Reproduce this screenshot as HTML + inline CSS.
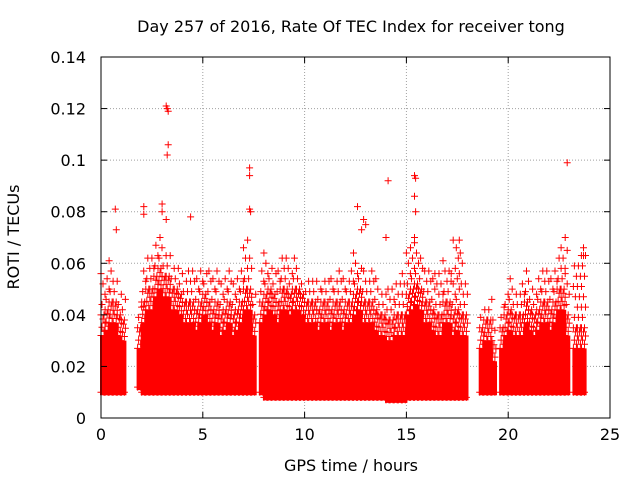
<!DOCTYPE html>
<html><head><meta charset="utf-8"><style>
body{margin:0;background:#fff;}
svg{display:block;font-family:"DejaVu Sans","Liberation Sans",sans-serif;}
</style></head><body>
<svg id="chart" width="640" height="480" viewBox="0 0 640 480">
<rect x="0" y="0" width="640" height="480" fill="#fff"/>
<text x="351" y="32" font-size="16" text-anchor="middle">Day 257 of 2016, Rate Of TEC Index for receiver tong</text>
<text x="351" y="471" font-size="16" text-anchor="middle">GPS time / hours</text>
<text transform="translate(19,237) rotate(-90)" font-size="16" text-anchor="middle">ROTI / TECUs</text>
<g id="grid"></g>
<g id="marks"></g>
<g id="axes"></g>
</svg>
<script>
const xTicks=[0,5,10,15,20,25];
const yTicks=[0,0.02,0.04,0.06,0.08,0.1,0.12,0.14];
const yTickLabels=["0","0.02","0.04","0.06","0.08","0.1","0.12","0.14"];
const binWidth=0.2;
const binHi=[.04,.042,.045,.045,.04,.038,null,null,null,.035,
.045,.05,.05,.055,.058,.055,.055,.05,.05,.048,
.045,.045,.045,.042,.045,.048,.045,.042,.045,.04,
.042,.045,.04,.042,.045,.05,.05,.04,null,.045,
.048,.05,.048,.045,.05,.05,.048,.05,.05,.048,
.045,.045,.045,.042,.045,.045,.042,.045,.045,.042,
.045,.045,.048,.05,.045,.045,.045,.042,.04,.04,
.038,.038,.04,.04,.04,.048,.05,.052,.05,.045,
.045,.042,.04,.04,.045,.045,.04,.042,.04,.04,
null,null,null,.035,.038,.038,.03,null,.035,.04,
.042,.04,.04,.04,.045,.042,.04,.042,.045,.045,
.042,.045,.05,.05,.04,null,.035,.035,.035,null];
const binLo=[.01,.01,.01,.01,.01,.01,null,null,null,.012,
.01,.01,.01,.01,.01,.01,.01,.01,.01,.01,
.01,.01,.01,.01,.01,.01,.01,.01,.01,.01,
.01,.01,.01,.01,.01,.01,.01,.01,null,.01,
.008,.008,.008,.008,.008,.008,.008,.008,.008,.008,
.008,.008,.008,.008,.008,.008,.008,.008,.008,.008,
.008,.008,.008,.008,.008,.008,.008,.008,.008,.008,
.007,.007,.007,.007,.007,.008,.008,.008,.008,.008,
.008,.008,.008,.008,.008,.008,.008,.008,.008,.008,
null,null,null,.01,.01,.01,.01,null,.01,.01,
.01,.01,.01,.01,.01,.01,.01,.01,.01,.01,
.01,.01,.01,.01,.01,null,.01,.01,.01,null];
const binPeak=[.06,.058,.063,.055,.05,.048,null,null,null,.045,
.06,.066,.065,.068,.07,.066,.065,.06,.06,.058,
.055,.058,.058,.055,.06,.06,.058,.055,.06,.055,
.058,.06,.055,.058,.06,.068,.065,.05,null,.058,
.065,.062,.06,.058,.065,.066,.06,.065,.058,.055,
.055,.055,.055,.05,.055,.055,.058,.055,.058,.055,
.055,.058,.068,.062,.058,.055,.06,.055,.05,.05,
.05,.05,.055,.055,.058,.066,.07,.07,.065,.06,
.058,.055,.058,.06,.065,.06,.058,.068,.068,.055,
null,null,null,.042,.045,.048,.04,null,.045,.05,
.055,.05,.05,.055,.058,.052,.05,.055,.058,.058,
.055,.058,.065,.068,.06,null,.06,.065,.065,null];
const outT=[3.2,3.25,3.3,3.3,3.25,7.3,7.3,7.3,7.35,14.1,15.4,15.45,15.4,15.45,22.9,0.7,0.75,2.1,2.1,3.0,3.0,3.2,4.4,12.6,12.9,14.0,15.4,17.3,17.6,22.8,22.9,23.7,23.7,7.2,13.0,12.8];
const outV=[0.121,0.12,0.119,0.106,0.102,0.097,0.094,0.081,0.08,0.092,0.094,0.093,0.086,0.08,0.099,0.081,0.073,0.082,0.079,0.083,0.08,0.077,0.078,0.082,0.077,0.07,0.07,0.069,0.069,0.07,0.065,0.066,0.063,0.069,0.075,0.073];

const X0=101,X1=610,Y0=418,Y1=57;
const xs=t=>X0+(t-0)/(25-0)*(X1-X0);
const ys=v=>Y0-(v-0)/(0.14-0)*(Y0-Y1);
const NS="http://www.w3.org/2000/svg";
function mk(tag,attrs,parent){const e=document.createElementNS(NS,tag);for(const k in attrs)e.setAttribute(k,attrs[k]);parent.appendChild(e);return e;}
const grid=document.getElementById('grid'),marks=document.getElementById('marks'),axes=document.getElementById('axes');
xTicks.forEach((t,i)=>{
  if(i>0&&i<xTicks.length-1){const g=mk('line',{x1:xs(t),x2:xs(t),y1:Y1,y2:Y0,stroke:'#a0a0a0','stroke-dasharray':'1,2'},grid);
  
  }
  const l=mk('text',{x:xs(t),y:Y0+22,'font-size':'16','text-anchor':'middle'},axes);l.textContent=t;
  
  
  mk('line',{x1:xs(t),x2:xs(t),y1:Y0,y2:Y0-6,stroke:'#000'},axes);
  mk('line',{x1:xs(t),x2:xs(t),y1:Y1,y2:Y1+6,stroke:'#000'},axes);
});
yTicks.forEach((v,i)=>{
  if(i>0&&i<yTicks.length-1){const g=mk('line',{x1:X0,x2:X1,y1:ys(v),y2:ys(v),stroke:'#a0a0a0','stroke-dasharray':'1,2'},grid);
  
  }
  const l=mk('text',{x:X0-15,y:ys(v)+6,'font-size':'16','text-anchor':'end'},axes);l.textContent=yTickLabels[i];
  
  
  mk('line',{x1:X0,x2:X0+6,y1:ys(v),y2:ys(v),stroke:'#000'},axes);
  mk('line',{x1:X1,x2:X1-6,y1:ys(v),y2:ys(v),stroke:'#000'},axes);
});
const frame=mk('rect',{x:X0,y:Y1,width:X1-X0,height:Y0-Y1,fill:'none',stroke:'#000'},axes);


let d='',fill='';
function plus(x,y){d+='M'+(x-3.5).toFixed(1)+' '+y.toFixed(1)+'h7M'+x.toFixed(1)+' '+(y-3.5).toFixed(1)+'v7';}
binHi.forEach((hi,i)=>{
  if(hi===null)return;
  const t0=i*binWidth,lo=binLo[i],pk=binPeak[i];
  const core=hi-0.008;
  const xa=xs(t0),xb=xs(t0+binWidth);
  fill+='M'+(xa-1).toFixed(1)+' '+ys(core).toFixed(1)+'H'+(xb+1).toFixed(1)+'V'+(ys(lo)+3).toFixed(1)+'H'+(xa-1).toFixed(1)+'Z';
  let k=0;
  for(let v=core;v<=hi;v+=0.0016){plus(xa+((k*3)%5),ys(v));k++;}
  for(let x=xa;x<xb;x+=3){plus(x,ys(lo));}
  for(let v=hi;v<=pk;v+=0.004){plus(xa+((k*3)%5),ys(v));k++;}
});
outT.forEach((t,i)=>plus(xs(t),ys(outV[i])));
const f=mk('path',{d:fill,fill:'#ff0000',stroke:'none'},marks);


const p=mk('path',{d:d,stroke:'#ff0000','stroke-width':'1',fill:'none'},marks);


</script>
</body></html>
